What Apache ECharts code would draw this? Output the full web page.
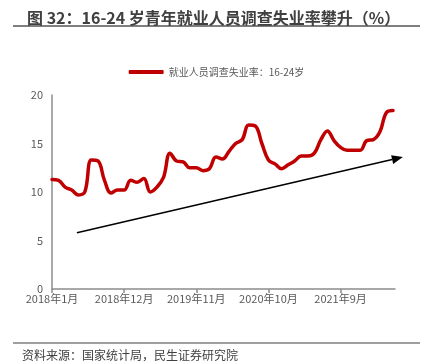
<!DOCTYPE html>
<html>
<head>
<meta charset="utf-8">
<script src="https://cdn.jsdelivr.net/npm/echarts@6/dist/echarts.min.js"></script>
<style>
  html, body { margin: 0; padding: 0; background: #fff; }
  #chart { width: 433px; height: 364px; }
</style>
</head>
<body>
<div id="chart"></div>
<script>
// 16-24岁就业人员调查失业率，2018年1月 - 2022年5月（月度）
var rate = [
  11.3, 11.2, 10.5, 10.2, 9.7, 10.0, 13.3, 13.2, 11.2, 9.9, 10.2, 10.2,
  11.2, 11.0, 11.4, 10.0, 10.5, 11.5, 14.0, 13.2, 13.1, 12.5, 12.5, 12.2,
  12.4, 13.6, 13.4, 14.2, 15.0, 15.4, 16.9, 16.8, 15.0, 13.3, 12.9, 12.4,
  12.8, 13.2, 13.7, 13.7, 14.0, 15.4, 16.3, 15.3, 14.6, 14.3, 14.3, 14.3,
  15.3, 15.4, 16.2, 18.2, 18.4
];
// x轴刻度（按月序号）
var tickIndex = [0, 11, 22, 33, 44];
var tickLabels = ["2018年1月", "2018年12月", "2019年11月", "2020年10月", "2021年9月"];
var yTicks = [0, 5, 10, 15, 20];
// 趋势箭头起止点（月序号, 数值）
var trendFrom = [3.8, 5.8];
var trendTo = [53.5, 13.6];

var FONT = "'Noto Sans CJK SC', 'Noto Sans', sans-serif";
var chart = echarts.init(document.getElementById("chart"));

var seriesData = rate.map(function (v, i) {
  var item = { value: [i, v] };
  if (i === rate.length - 1) {
    item.label = {
      show: true,
      position: "top",
      distance: 6,
      color: "#595959",
      fontSize: 11,
      fontFamily: FONT
    };
  }
  return item;
});

var option = {
  animation: false,
  title: {
    text: "图 32：16-24 岁青年就业人员调查失业率攀升（%）",
    left: 22,
    top: 5,
    textStyle: {
      fontSize: 16,
      fontWeight: "bold",
      color: "#404040",
      fontFamily: FONT
    }
  },
  legend: {
    top: 62,
    left: "center",
    icon: "roundRect",
    itemWidth: 35,
    itemHeight: 4,
    itemGap: 6,
    textStyle: { fontSize: 10, color: "#595959", fontFamily: FONT },
    data: ["就业人员调查失业率：16-24岁"]
  },
  grid: { left: 52, right: 38, top: 95, bottom: 75 },
  xAxis: {
    type: "value",
    min: 0,
    max: 52.3,
    splitLine: { show: false },
    axisLine: { lineStyle: { color: "#8c8c8c", width: 1.5 } },
    axisTick: {
      show: true,
      customValues: tickIndex,
      length: 4,
      lineStyle: { color: "#8c8c8c", width: 1.5 }
    },
    axisLabel: {
      customValues: tickIndex,
      margin: 4,
      color: "#595959",
      fontSize: 11,
      fontFamily: FONT,
      formatter: function (v) {
        var k = tickIndex.indexOf(v);
        return k >= 0 ? tickLabels[k] : "";
      }
    }
  },
  yAxis: {
    type: "value",
    min: 0,
    max: 20,
    interval: 5,
    splitLine: { show: false },
    axisLine: { show: true, lineStyle: { color: "#8c8c8c", width: 1.5 } },
    axisTick: { show: false },
    axisLabel: {
      margin: 9,
      color: "#595959",
      fontSize: 11,
      fontFamily: FONT,
      formatter: function (v) {
        return yTicks.indexOf(v) >= 0 ? String(v) : "";
      }
    }
  },
  series: [
    {
      name: "就业人员调查失业率：16-24岁",
      type: "line",
      smooth: 0.4,
      showSymbol: false,
      symbol: "none",
      color: "#c00000",
      lineStyle: { color: "#c00000", width: 3.5, cap: "round", join: "round" },
      data: seriesData
    }
  ]
};
chart.setOption(option);

// 趋势箭头与标题、来源的分隔线
var p0 = chart.convertToPixel({ gridIndex: 0 }, trendFrom);
var p1 = chart.convertToPixel({ gridIndex: 0 }, trendTo);
var ang = Math.atan2(p1[1] - p0[1], p1[0] - p0[0]);
var headLen = 11, headHalf = 4.5;
var bx = p1[0] - headLen * Math.cos(ang), by = p1[1] - headLen * Math.sin(ang);
var nx = -Math.sin(ang), ny = Math.cos(ang);

chart.setOption({
  graphic: [
    {
      type: "line",
      shape: { x1: 13, y1: 26, x2: 420, y2: 26 },
      style: { stroke: "#7f7f7f", lineWidth: 2 }
    },
    {
      type: "line",
      shape: { x1: p0[0], y1: p0[1], x2: bx, y2: by },
      style: { stroke: "#000", lineWidth: 1.5 },
      z: 10
    },
    {
      type: "polygon",
      shape: {
        points: [
          [p1[0], p1[1]],
          [bx + nx * headHalf, by + ny * headHalf],
          [bx - nx * headHalf, by - ny * headHalf]
        ]
      },
      style: { fill: "#000" },
      z: 10
    },
    {
      type: "line",
      shape: { x1: 13, y1: 343, x2: 420, y2: 343 },
      style: { stroke: "#7f7f7f", lineWidth: 1.5 }
    },
    {
      type: "text",
      left: 22,
      top: 349,
      style: {
        text: "资料来源：国家统计局，民生证券研究院",
        fontSize: 12,
        fill: "#404040",
        fontFamily: FONT
      }
    }
  ]
});
</script>
</body>
</html>
